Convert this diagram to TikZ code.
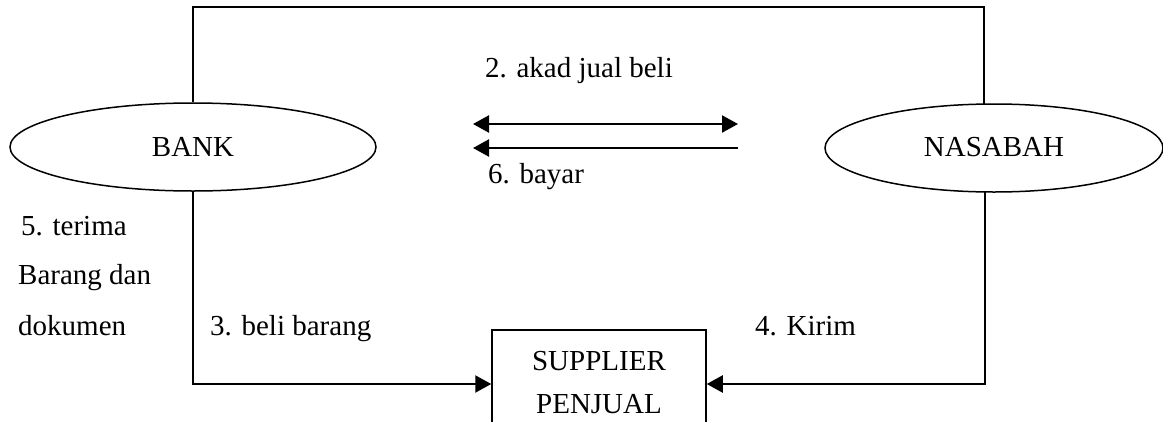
\documentclass[tikz,border=0pt]{standalone}
\usepackage{fontspec}
\setmainfont{Liberation Serif}
\usetikzlibrary{arrows.meta,calc,shapes.geometric}
\begin{document}
\begin{tikzpicture}[x=1pt,y=-1pt,
  every node/.style={font=\fontsize{29}{35}\selectfont, inner sep=0pt},
  actor/.style={draw, ellipse, line width=1.5pt, minimum width=#1, minimum height=88pt},
  boxnode/.style={draw, line width=1.5pt, minimum width=214pt, minimum height=108pt},
  conn/.style={line width=2.2pt},
  arr/.style={conn, -{Triangle[length=16pt,width=17pt]}},
  darr/.style={conn, {Triangle[length=16pt,width=17pt]}-{Triangle[length=16pt,width=17pt]}},
  lbl/.style={anchor=base west}
]
\useasboundingbox (0,0) rectangle (1163,421);
\clip (0,0) rectangle (1163,421);
\fill[white] (0,0) rectangle (1163,421);

\node[actor=366pt] (bank) at (193,147) {};
\node[anchor=base] (banktxt) at (193,156) {BANK};
\node[actor=338pt] (nas) at (994,148) {};
\node[anchor=base] (nastxt) at (994,156) {NASABAH};
\node[boxnode] (sup) at (599,384) {};
\node[anchor=base] (suptxt) at (599,370) {SUPPLIER};
\node[anchor=base] (pentxt) at (599,413) {PENJUAL};

\coordinate (tl) at (193,7);
\coordinate (tr) at (984,7);
\coordinate (ntop) at (984,104);
\coordinate (nbot) at (985,192);
\draw[conn] (bank.north) -- (tl) -- (tr) -- (ntop);
\draw[arr] (bank.south) |- (sup.west);
\draw[arr] (nbot) |- (sup.east);

\coordinate (a1) at (473,124);
\coordinate (a2) at (738,124);
\coordinate (b1) at (738,148);
\coordinate (b2) at (473,148);
\draw[darr] (a1) -- (a2);
\draw[arr] (b1) -- (b2);

\node[lbl] (l2) at (485,77) {2. akad jual beli};
\node[lbl] (l6) at (488,183) {6. bayar};
\node[lbl] (l5a) at (21,235) {5. terima};
\node[lbl] (l5b) at (18,284) {Barang dan};
\node[lbl] (l5c) at (18,335) {dokumen};
\node[lbl] (l3) at (210,335) {3. beli barang};
\node[lbl] (l4) at (755,335) {4. Kirim};
\end{tikzpicture}
\end{document}
